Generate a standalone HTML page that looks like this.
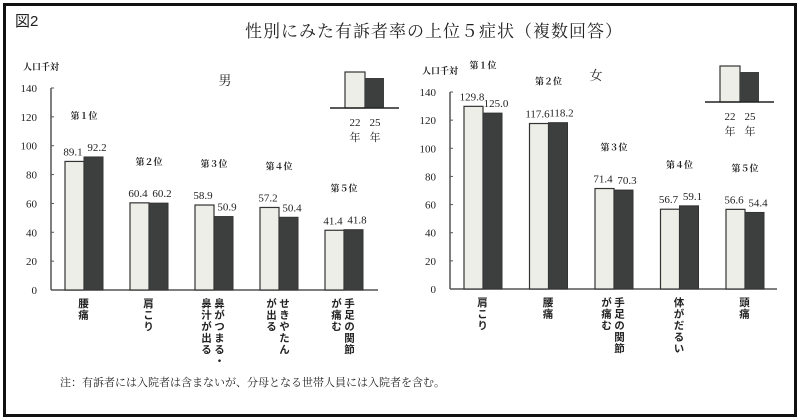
<!DOCTYPE html>
<html><head><meta charset="utf-8">
<style>
body{margin:0;width:800px;height:420px;background:#fff;overflow:hidden;font-family:"Liberation Serif","Noto Serif CJK SC","Noto Sans CJK JP",serif;}
#frame{position:absolute;left:3px;top:3px;width:788px;height:408px;border:3px solid #111;}
.t{position:absolute;white-space:nowrap;color:#222;}
.v{position:absolute;writing-mode:vertical-rl;font-size:10.5px;line-height:13px;letter-spacing:1px;color:#222;font-weight:bold;font-family:"Noto Sans CJK JP",sans-serif;}
</style></head><body>
<div id="frame"></div>
<div class="t" style="left:15px;top:10px;font-size:15px;font-family:'Liberation Sans','Noto Sans CJK JP',sans-serif;">図2</div>
<div class="t" style="left:245px;top:17px;font-size:17px;letter-spacing:1px;font-family:'Liberation Serif','Noto Serif CJK SC',serif;">性別にみた有訴者率の上位５症状（複数回答）</div>
<svg id="svg" width="800" height="420" style="position:absolute;left:0;top:0"></svg>
<div id="labels"></div>
<div class="t" style="left:60px;top:374px;font-size:11px;font-family:'Liberation Serif','Noto Serif CJK SC',serif;">注：有訴者には入院者は含まないが、分母となる世帯人員には入院者を含む。</div>
<script>
const maleCats=["腰痛","肩こり","鼻がつまる・\n鼻汁が出る","せきやたん\nが出る","手足の関節\nが痛む"];
const male22=[89.1,60.4,58.9,57.2,41.4];
const male25=[92.2,60.2,50.9,50.4,41.8];
const femaleCats=["肩こり","腰痛","手足の関節\nが痛む","体がだるい","頭痛"];
const female22=[129.8,117.6,71.4,56.7,56.6];
const female25=[125.0,118.2,70.3,59.1,54.4];
const ticks=[0,20,40,60,80,100,120,140];
const rankLabels=["第１位","第２位","第３位","第４位","第５位"];

const svg=document.getElementById('svg');
const NS='http://www.w3.org/2000/svg';
function mk(tag,attrs,name){const e=document.createElementNS(NS,tag);for(const k in attrs)e.setAttribute(k,attrs[k]);


svg.appendChild(e);return e;}
function txt(x,y,s,size,name,anchor,weight){const e=mk('text',{x:x,y:y,'font-size':size,'text-anchor':anchor||'middle','font-family':'Liberation Serif, Noto Serif CJK SC, serif',fill:'#222','font-weight':weight||'normal'},name);e.textContent=s;return e;}

function chart(o){
  const y=v=>o.y0-(v/140)*(o.y0-o.y140);
  mk('line',{x1:o.ax,y1:o.y140,x2:o.ax,y2:o.y0,stroke:'#555','stroke-width':1.5},'y-axis');
  mk('line',{x1:o.ax,y1:o.y0,x2:o.axEnd,y2:o.y0,stroke:'#555','stroke-width':1.5},'x-axis');
  ticks.forEach(t=>{mk('line',{x1:o.ax,y1:y(t),x2:o.ax+3,y2:y(t),stroke:'#555'},'y-tick');
    txt(o.ax-14,y(t)+4,String(t),11,'y-tick-label','end');});
  txt(o.ax-28,o.y140-18,'人口千対',9,'y-axis-unit','start','bold');
  txt(o.titleX,o.titleY,o.title,13,'panel-title');
  o.cats.forEach((c,i)=>{
    const gx=o.gx0+i*o.step, w=19;
    const h1=y(o.a[i]),h2=y(o.b[i]);
    mk('rect',{x:gx,y:h1,width:w,height:o.y0-h1,fill:'#eeeee8',stroke:'#333','stroke-width':1.2},'bar-22-'+i);
    mk('rect',{x:gx+w,y:h2,width:w,height:o.y0-h2,fill:'#3d3f3f',stroke:'#333','stroke-width':1},'bar-25-'+i);
    txt(gx+8,h1-6,o.a[i].toFixed(1),11,'value-22-'+i);
    txt(gx+w+13,h2-6,o.b[i].toFixed(1),11,'value-25-'+i);
    const top=Math.min(h1,h2);
    txt(gx+w,top-38,rankLabels[i],9,'rank-label-'+i,'middle','bold');
    const lines=c.split('\n');
    const d=document.createElement('div');d.className='v';
    
    
    d.style.left=(gx+w-7-(lines.length-1)*7)+'px';d.style.top=(o.y0+8)+'px';
    d.innerHTML=lines.join('<br>');
    document.getElementById('labels').appendChild(d);
  });
  const L=o.leg;
  mk('rect',{x:L.x,y:L.y,width:20,height:L.base-L.y,fill:'#eeeee8',stroke:'#333','stroke-width':1.2},'legend-22-swatch');
  mk('rect',{x:L.x+20,y:L.y+6,width:19,height:L.base-L.y-6,fill:'#3d3f3f'},'legend-25-swatch');
  mk('line',{x1:L.x-15,y1:L.base,x2:L.x+54,y2:L.base,stroke:'#222','stroke-width':1.5},'legend-baseline');
  txt(L.x+10,L.base+18,'22',11,'legend-22-label');txt(L.x+30,L.base+18,'25',11,'legend-25-label');
  txt(L.x+10,L.base+33,'年',11,'legend-22-year');txt(L.x+30,L.base+33,'年',11,'legend-25-year');
}
chart({ax:51,axEnd:378,y0:290,y140:88,gx0:65,step:65,cats:maleCats,a:male22,b:male25,title:'男',titleX:225,titleY:85,leg:{x:345,y:72,base:108}});
chart({ax:450,axEnd:777,y0:289,y140:92,gx0:464,step:65.5,cats:femaleCats,a:female22,b:female25,title:'女',titleX:596,titleY:80,leg:{x:720,y:66,base:102}});
</script>
</body></html>
